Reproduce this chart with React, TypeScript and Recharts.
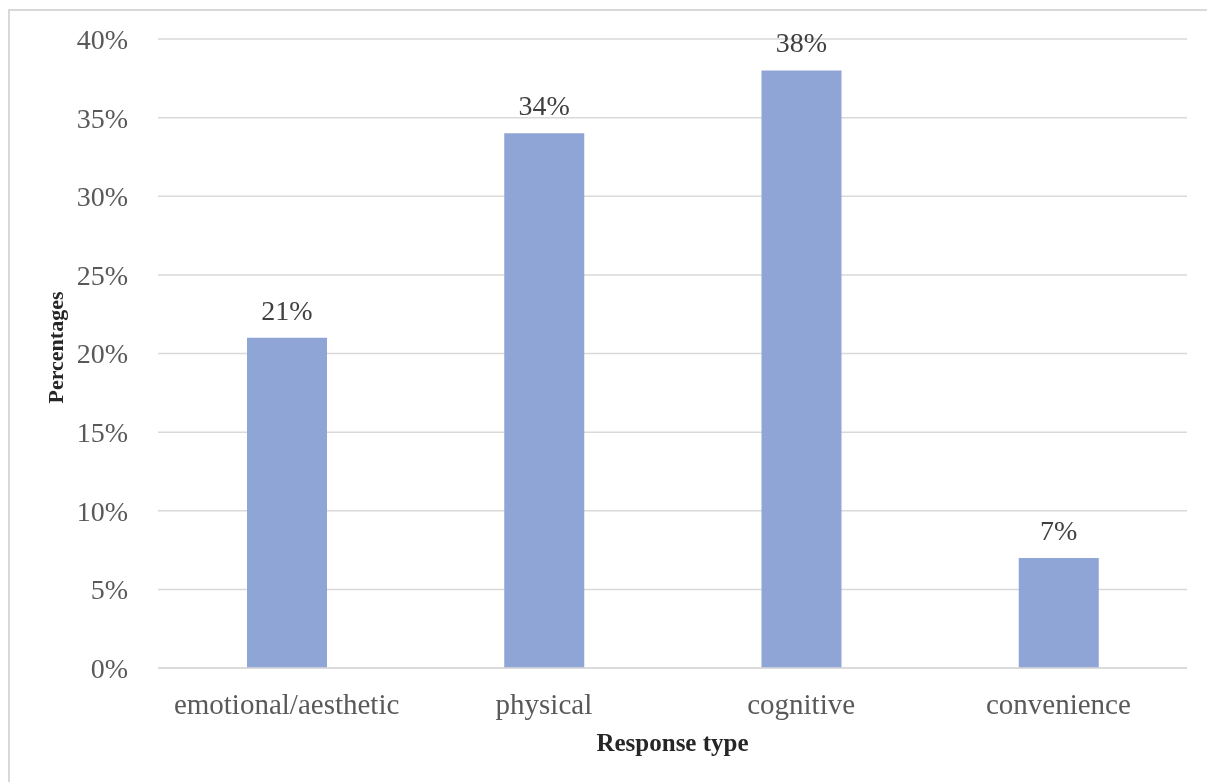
import { BarChart, Bar, XAxis, YAxis, CartesianGrid, LabelList, Label } from "recharts";

const categories = ["emotional/aesthetic", "physical", "cognitive", "convenience"];
const percentages = [21, 34, 38, 7];
const yTicks = [0, 5, 10, 15, 20, 25, 30, 35, 40];

const data = categories.map((name, i) => ({ name, value: percentages[i] }));

const FONT = '"Liberation Serif", "Times New Roman", serif';

export default function App() {
  return (
    <div
      style={{
        position: "fixed",
        left: 8,
        top: 9,
        width: 1199,
        height: 773,
        borderTop: "2px solid #d9d9d9",
        borderLeft: "2px solid #d9d9d9",
        boxSizing: "border-box",
        fontFamily: FONT,
      }}
    >
      <BarChart
        width={1197}
        height={771}
        data={data}
        margin={{ top: 28, right: 20, left: 0, bottom: 0 }}
        barSize={80}
      >
        <CartesianGrid vertical={false} stroke="#d9d9d9" strokeWidth={1.5} />
        <XAxis
          dataKey="name"
          tickLine={false}
          tickSize={0}
          tickMargin={25}
          axisLine={{ stroke: "#d9d9d9", strokeWidth: 1.5 }}
          tick={{ fontSize: 29, fill: "#595959", fontFamily: FONT }}
          height={114}
        >
          <Label
            value="Response type"
            position="insideBottom"
            offset={31}
            style={{ fontSize: 25, fontWeight: "bold", fill: "#262626", fontFamily: FONT }}
          />
        </XAxis>
        <YAxis
          domain={[0, 40]}
          ticks={yTicks}
          interval={0}
          tickFormatter={(v) => `${v}%`}
          axisLine={false}
          tickLine={false}
          tickSize={0}
          tickMargin={30}
          width={148}
          tick={{ fontSize: 28, fill: "#595959", fontFamily: FONT }}
        >
          <Label
            value="Percentages"
            angle={-90}
            position="insideLeft"
            offset={45}
            dy={-6}
            style={{ fontSize: 22, fontWeight: "bold", fill: "#262626", fontFamily: FONT, textAnchor: "middle" }}
          />
        </YAxis>
        <Bar dataKey="value" fill="#8FA5D5" isAnimationActive={false}>
          <LabelList
            dataKey="value"
            position="top"
            offset={18}
            formatter={(v: number) => `${v}%`}
            style={{ fontSize: 28, fill: "#404040", fontFamily: FONT }}
          />
        </Bar>
      </BarChart>
    </div>
  );
}
